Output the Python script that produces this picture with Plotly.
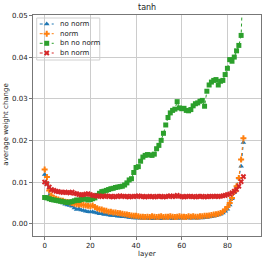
import plotly.graph_objects as go

layers = list(range(88))

no_norm = [
    0.0118, 0.0098, 0.0068, 0.0060, 0.0058, 0.0056, 0.0054, 0.0052, 0.0050, 0.0047,
    0.0045, 0.0044, 0.0042, 0.0038, 0.0034, 0.0036, 0.0033, 0.0032, 0.0030, 0.0029,
    0.0028, 0.0029, 0.0027, 0.0026, 0.0024, 0.0024, 0.0022, 0.0023, 0.0021, 0.0020,
    0.0020, 0.0019, 0.0018, 0.0018, 0.0017, 0.0017, 0.0016, 0.0015, 0.0015, 0.0014,
    0.0014, 0.0014, 0.0013, 0.0013, 0.0013, 0.0013, 0.0012, 0.0013, 0.0012, 0.0013,
    0.0014, 0.0012, 0.0013, 0.0013, 0.0014, 0.0013, 0.0012, 0.0014, 0.0013, 0.0013,
    0.0014, 0.0013, 0.0015, 0.0014, 0.0013, 0.0014, 0.0014, 0.0013, 0.0015, 0.0014,
    0.0015, 0.0015, 0.0016, 0.0017, 0.0018, 0.0019, 0.0021, 0.0023, 0.0026, 0.0030,
    0.0035, 0.0045, 0.0060, 0.0075, 0.0090, 0.0110, 0.0138, 0.0195,
]

norm = [
    0.0130, 0.0112, 0.0080, 0.0068, 0.0062, 0.0060, 0.0058, 0.0056, 0.0055, 0.0053,
    0.0052, 0.0051, 0.0050, 0.0048, 0.0047, 0.0046, 0.0046, 0.0045, 0.0044, 0.0043,
    0.0042, 0.0044, 0.0040, 0.0037, 0.0035, 0.0034, 0.0032, 0.0031, 0.0029, 0.0029,
    0.0027, 0.0027, 0.0026, 0.0025, 0.0024, 0.0023, 0.0022, 0.0021, 0.0020, 0.0019,
    0.0019, 0.0018, 0.0017, 0.0017, 0.0016, 0.0017, 0.0016, 0.0018, 0.0017, 0.0016,
    0.0017, 0.0018, 0.0016, 0.0017, 0.0017, 0.0018, 0.0017, 0.0016, 0.0017, 0.0018,
    0.0017, 0.0017, 0.0016, 0.0018, 0.0017, 0.0018, 0.0017, 0.0017, 0.0018, 0.0018,
    0.0019, 0.0019, 0.0020, 0.0021, 0.0022, 0.0023, 0.0024, 0.0026, 0.0029, 0.0034,
    0.0040, 0.0050, 0.0062, 0.0077, 0.0090, 0.0110, 0.0154, 0.0205,
]

bn_no_norm = [
    0.0063, 0.0062, 0.0060, 0.0058, 0.0057, 0.0056, 0.0055, 0.0054, 0.0053, 0.0052,
    0.0051, 0.0052, 0.0053, 0.0055, 0.0057, 0.0056, 0.0058, 0.0060, 0.0059, 0.0057,
    0.0058, 0.0060, 0.0062, 0.0068, 0.0073, 0.0077, 0.0078, 0.0080, 0.0082, 0.0084,
    0.0085, 0.0087, 0.0088, 0.0089, 0.0090, 0.0093, 0.0098, 0.0105, 0.0108, 0.0123,
    0.0135, 0.0137, 0.0150, 0.0160, 0.0164, 0.0166, 0.0165, 0.0164, 0.0167, 0.0180,
    0.0188, 0.0200, 0.0217, 0.0237, 0.0255, 0.0266, 0.0272, 0.0275, 0.0293, 0.0278,
    0.0276, 0.0277, 0.0272, 0.0271, 0.0274, 0.0283, 0.0288, 0.0290, 0.0294, 0.0296,
    0.0282, 0.0318, 0.0333, 0.0340, 0.0344, 0.0346, 0.0333, 0.0342, 0.0344, 0.0358,
    0.0373, 0.0394, 0.0390, 0.0400, 0.0415, 0.0428, 0.0452, 0.0600,
]

bn_norm = [
    0.0100, 0.0096, 0.0088, 0.0082, 0.0080, 0.0078, 0.0077, 0.0076, 0.0075, 0.0076,
    0.0075, 0.0074, 0.0076, 0.0073, 0.0072, 0.0070, 0.0069, 0.0070, 0.0071, 0.0072,
    0.0070, 0.0068, 0.0067, 0.0066, 0.0067, 0.0065, 0.0066, 0.0067, 0.0065, 0.0066,
    0.0064, 0.0066, 0.0065, 0.0067, 0.0066, 0.0065, 0.0066, 0.0064, 0.0066, 0.0065,
    0.0066, 0.0067, 0.0065, 0.0066, 0.0064, 0.0065, 0.0066, 0.0065, 0.0064, 0.0066,
    0.0065, 0.0066, 0.0064, 0.0065, 0.0066, 0.0067, 0.0065, 0.0066, 0.0068, 0.0066,
    0.0065, 0.0064, 0.0066, 0.0065, 0.0066, 0.0065, 0.0064, 0.0066, 0.0065, 0.0066,
    0.0064, 0.0065, 0.0066, 0.0065, 0.0066, 0.0066, 0.0065, 0.0066, 0.0067, 0.0068,
    0.0070, 0.0071, 0.0074, 0.0078, 0.0082, 0.0090, 0.0101, 0.0113,
]

series_names = ["no norm", "norm", "bn no norm", "bn norm"]
y_ticks = [0.00, 0.01, 0.02, 0.03, 0.04, 0.05]
x_ticks = [0, 20, 40, 60, 80]

colors = ["#1f77b4", "#ff7f0e", "#2ca02c", "#d62728"]
symbols = ["triangle-up", "cross", "square", "x"]
all_vals = [no_norm, norm, bn_no_norm, bn_norm]

fig = go.Figure()
for name, vals, color, sym in zip(series_names, all_vals, colors, symbols):
    fig.add_trace(go.Scatter(
        x=layers, y=vals, name=name, mode="lines+markers",
        line=dict(color=color, width=1, dash="dot"),
        marker=dict(symbol=sym, size=5, color=color, line=dict(width=0)),
        showlegend=False, hoverinfo="skip",
    ))

# custom compact legend (matplotlib-like), in plot-area (paper) coordinates
W, H = 227.7, 221.0
def px2x(px):
    return (px - 33.3) / W
def py2y(py):
    return 1 - (py - 15) / H

shapes = [dict(type="rect", xref="paper", yref="paper",
               x0=px2x(37), x1=px2x(100), y0=py2y(60), y1=py2y(18),
               line=dict(color="#d0d0d0", width=1), fillcolor="rgba(255,255,255,0.85)",
               layer="between")]
annotations = []
row_y = [24.0, 33.7, 43.3, 53.0]
for name, color, sym, ry in zip(series_names, colors, symbols, row_y):
    shapes.append(dict(type="line", xref="paper", yref="paper",
                       x0=px2x(40), x1=px2x(54), y0=py2y(ry), y1=py2y(ry),
                       line=dict(color=color, width=1, dash="dot"), layer="between"))
    fig.add_trace(go.Scatter(
        x=[px2x(47)], y=[py2y(ry)], mode="markers", xaxis="x2", yaxis="y2",
        marker=dict(symbol=sym, size=5, color=color, line=dict(width=0)),
        showlegend=False, hoverinfo="skip",
    ))
    annotations.append(dict(text=name, xref="paper", yref="paper",
                            x=px2x(58), y=py2y(ry), xanchor="left", yanchor="middle",
                            showarrow=False, font=dict(family="DejaVu Sans", size=7, color="#222")))

annotations += [
    dict(text="tanh", xref="paper", yref="paper", x=0.5, y=py2y(7.5),
         xanchor="center", yanchor="middle", showarrow=False,
         font=dict(family="DejaVu Sans", size=8, color="#222")),
    dict(text="layer", xref="paper", yref="paper", x=0.5, y=py2y(253.5),
         xanchor="center", yanchor="middle", showarrow=False,
         font=dict(family="DejaVu Sans", size=7, color="#222")),
    dict(text="average weight change", xref="paper", yref="paper", x=px2x(6), y=py2y(125),
         xanchor="center", yanchor="middle", showarrow=False, textangle=-90,
         font=dict(family="DejaVu Sans", size=7, color="#222")),
]

font = dict(family="DejaVu Sans", size=7, color="#222")
fig.update_layout(
    width=266, height=262,
    margin=dict(l=33, r=5, t=15, b=26, autoexpand=False),
    paper_bgcolor="white", plot_bgcolor="white",
    font=font, showlegend=False, hovermode=False,
    shapes=shapes, annotations=annotations,
    xaxis=dict(
        range=[-5.1, 94.7], tickvals=x_ticks, ticktext=[str(v) for v in x_ticks],
        showgrid=True, gridcolor="#cccccc", gridwidth=1, zeroline=False,
        showline=True, linecolor="#777", linewidth=1, mirror=True,
        ticks="outside", ticklen=3, tickcolor="#777", automargin=False,
        showspikes=False,
    ),
    yaxis=dict(
        range=[-0.00295, 0.0501], tickvals=y_ticks, ticktext=["%.2f" % v for v in y_ticks],
        showgrid=True, gridcolor="#cccccc", gridwidth=1, zeroline=False,
        showline=True, linecolor="#777", linewidth=1, mirror=True,
        ticks="outside", ticklen=3, tickcolor="#777", automargin=False,
        showspikes=False,
    ),
    xaxis2=dict(overlaying="x", range=[0, 1], visible=False, fixedrange=True),
    yaxis2=dict(overlaying="y", range=[0, 1], visible=False, fixedrange=True),
)
fig.write_html("out.html", config={"displayModeBar": False, "staticPlot": True},
               post_script="document.body.style.margin='0';document.body.style.padding='0';")
